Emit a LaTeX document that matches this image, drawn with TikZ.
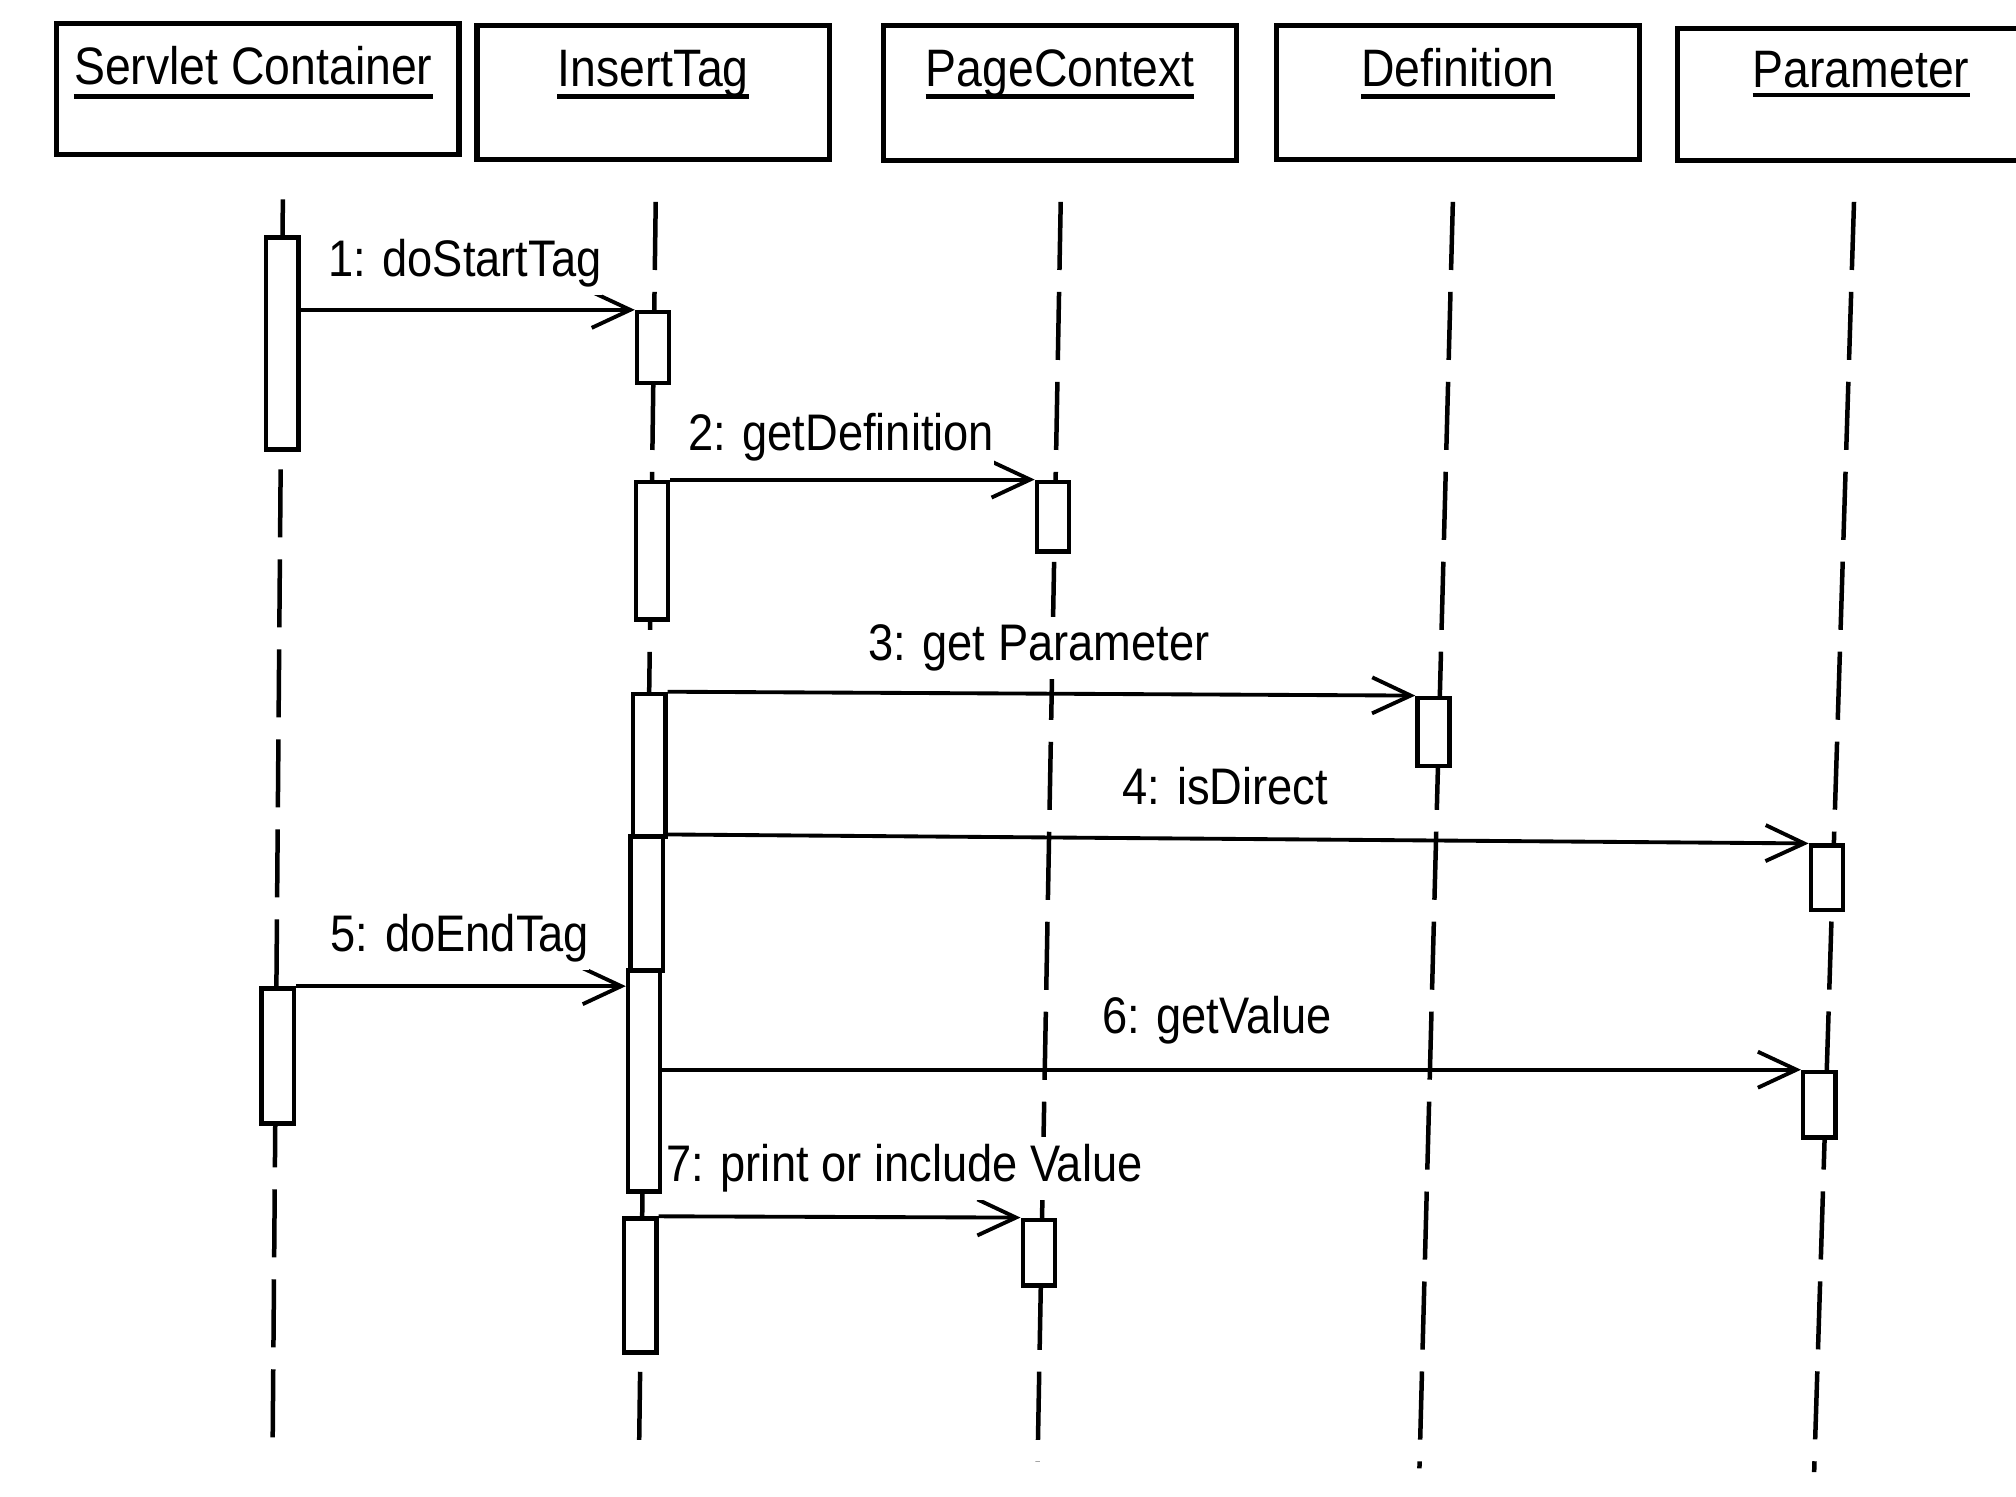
\documentclass[tikz,border=0pt]{standalone}
\usepackage{fontspec}
\setmainfont[FakeStretch=0.88]{Liberation Sans}
\usetikzlibrary{arrows.meta}

\tikzset{
  objbox/.style={draw,line width=4pt,inner sep=0pt},
  objname/.style={inner sep=0pt,anchor=base,font=\fontsize{41}{49}\selectfont},
  uline/.style={line width=3.5pt},
  life/.style={line width=3.5pt,dash pattern=on 53pt off 17pt},
  act/.style={draw,fill=white,line width=3.5pt,minimum width=25pt,inner sep=0pt,anchor=north},
  msg/.style={line width=3pt,-{Straight Barb[length=30pt,width=28pt,line width=3pt]}},
  msglabel/.style={fill=white,inner xsep=0pt,inner ysep=6pt,anchor=base west,font=\fontsize{40}{48}\selectfont}
}

\begin{document}
\begin{tikzpicture}[x=1pt,y=-1pt]
\useasboundingbox (0,0) rectangle (1568,1164);
\clip (0,0) rectangle (1568,1164);

% object boxes
\node [objbox,minimum width=313pt,minimum height=102pt] (sc) at ( 200.5,69  ) {};
\node [objbox,minimum width=274pt,minimum height=104pt] (it) at ( 508  ,72  ) {};
\node [objbox,minimum width=275pt,minimum height=105pt] (pc) at ( 824.5,72.5) {};
\node [objbox,minimum width=282pt,minimum height=104pt] (df) at (1134  ,72  ) {};
\node [objbox,minimum width=285pt,minimum height=103pt] (pm) at (1447.5,73.5) {};

\node [objname] (scname) at (197  ,66) {Servlet Container};
\node [objname] (itname) at (it |- 0,67) {InsertTag};
\node [objname] (pcname) at (pc |- 0,67) {PageContext};
\node [objname] (dfname) at (df |- 0,67) {Definition};
\node [objname] (pmname) at (pm |- 0,68) {Parameter};
\draw [uline] ([yshift=-9pt]scname.base west) -- ([yshift=-9pt]scname.base east);
\draw [uline] ([yshift=-8pt]itname.base west) -- ([yshift=-8pt]itname.base east);
\draw [uline] ([yshift=-8pt]pcname.base west) -- ([yshift=-8pt]pcname.base east);
\draw [uline] ([yshift=-8pt]dfname.base west) -- ([yshift=-8pt]dfname.base east);
\draw [uline] ([yshift=-6pt]pmname.base west) -- ([yshift=-6pt]pmname.base east);

% lifelines
\coordinate (sctop) at ( 220,155); \coordinate (scbot) at ( 212,1130);
\coordinate (ittop) at ( 510,157); \coordinate (itbot) at ( 497,1132);
\coordinate (pctop) at ( 825,157); \coordinate (pcbot) at ( 807,1137);
\coordinate (dftop) at (1130,157); \coordinate (dfbot) at (1104,1142);
\coordinate (pmtop) at (1442,157); \coordinate (pmbot) at (1411,1145);
\draw [life] (sctop) -- (scbot);
\draw [life] (ittop) -- (itbot);
\draw [life] (pctop) -- (pcbot);
\draw [life] (dftop) -- (dfbot);
\draw [life] (pmtop) -- (pmbot);

% activations
\node [act,minimum height=165pt] (sa1)  at ( 219.5,183) {};
\node [act,minimum height=105pt] (sa2)  at ( 216  ,767) {};
\node [act,minimum height= 55pt] (ia1)  at ( 508  ,241) {};
\node [act,minimum height=107pt] (ia2)  at ( 507  ,373) {};
\node [act,minimum height=111pt] (ia3)  at ( 505  ,538) {};
\node [act,minimum height=104pt] (ia4)  at ( 503  ,649) {};
\node [act,minimum height=172pt] (ia5)  at ( 501  ,753) {};
\node [act,minimum height=104pt] (ia6)  at ( 498  ,946) {};
\node [act,minimum height= 54pt] (pa1)  at ( 819  ,373) {};
\node [act,minimum height= 51pt] (pa2)  at ( 808  ,947) {};
\node [act,minimum height= 53pt] (da1)  at (1115  ,541) {};
\node [act,minimum height= 50pt] (pma1) at (1421  ,656) {};
\node [act,minimum height= 51pt] (pma2) at (1415  ,832) {};

% messages
\draw [msg] (sa1.east |- ia1.north) -- (ia1.north west);
\draw [msg] (ia2.north east) -- (pa1.north west);
\draw [msg] (ia3.north east) -- (da1.north west);
\draw [msg] (ia4.north east) -- (pma1.north west);
\draw [msg] (sa2.north east) -- (sa2.north east -| ia5.west);
\draw [msg] (pma2.north west -| ia5.east) -- (pma2.north west);
\draw [msg] (ia6.north east) -- (pa2.north west);

\node [msglabel] (l1) at (255,215) {1: doStartTag};
\node [msglabel] (l2) at (535,350) {2: getDefinition};
\node [msglabel] (l3) at (675,514) {3: get Parameter};
\node [msglabel] (l4) at (873,626) {4: isDirect};
\node [msglabel] (l5) at (257,740) {5: doEndTag};
\node [msglabel] (l6) at (857,804) {6: getValue};
\node [msglabel] (l7) at (518,919) {7: print or include Value};
\end{tikzpicture}
\end{document}
